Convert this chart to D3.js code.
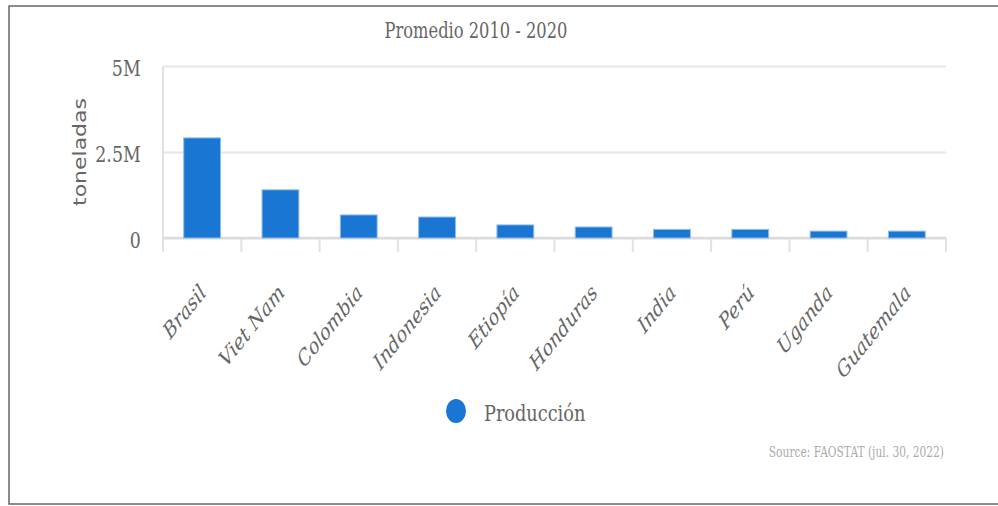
<!DOCTYPE html>
<html>
<head>
<meta charset="utf-8">
<script src="https://cdn.jsdelivr.net/npm/d3@7"></script>
<style>
  body { margin: 0; background: #fff; }
  svg text { font-family: "DejaVu Serif", serif; fill: #666; }
</style>
</head>
<body>
<svg width="998" height="506"></svg>
<script>
  const countries = ['Brasil', 'Viet Nam', 'Colombia', 'Indonesia', 'Etiopía', 'Honduras', 'India', 'Perú', 'Uganda', 'Guatemala'];
  const produccion = [2910000, 1400000, 670000, 610000, 380000, 320000, 250000, 250000, 200000, 200000];
  const yTicks = [0, 2500000, 5000000];
  const yTickLabels = ['0', '2.5M', '5M'];

  const svg = d3.select('svg');
  const width = +svg.attr('width');
  const height = +svg.attr('height');

  // the original looks squashed sideways, so texts get a scaleX
  const squash = 0.8;

  // chart frame
  svg.append('rect')
    .attr('x', 9).attr('y', 6)
    .attr('width', 1000).attr('height', 498)
    .attr('fill', 'none')
    .attr('stroke', '#666')
    .attr('stroke-width', 1.5);

  const margin = {top: 66, right: 52, bottom: 268, left: 163};
  const innerWidth = width - margin.left - margin.right;
  const innerHeight = height - margin.top - margin.bottom;

  const data = countries.map((c, i) => ({country: c, value: produccion[i]}));

  const xScale = d3.scaleBand()
    .domain(countries)
    .range([0, innerWidth])
    .paddingInner(0.53)
    .paddingOuter(0.265);

  const xBand = d3.scaleBand()
    .domain(countries)
    .range([0, innerWidth]);

  const yScale = d3.scaleLinear()
    .domain([0, 5000000])
    .range([innerHeight, 0]);

  const g = svg.append('g')
    .attr('transform', `translate(${margin.left},${margin.top})`);

  // gridlines + y tick labels
  const yAxisG = g.append('g')
    .call(d3.axisLeft(yScale)
      .tickValues(yTicks)
      .tickSize(-innerWidth)
      .tickFormat((d, i) => yTickLabels[i]));
  yAxisG.select('.domain').remove();
  yAxisG.selectAll('.tick line').attr('stroke', '#e6e6e6').attr('stroke-width', 2);
  yAxisG.selectAll('.tick text')
    .attr('font-size', 22)
    .attr('x', -22.3 / 0.79)
    .attr('dy', '0.45em')
    .attr('transform', 'scale(0.79,1)');

  // left axis line
  g.append('line')
    .attr('x1', 0).attr('x2', 0)
    .attr('y1', 0).attr('y2', innerHeight + 14)
    .attr('stroke', '#e2e2e2').attr('stroke-width', 2);

  // category boundary ticks
  const bounds = countries.map(c => xBand(c) + xBand.bandwidth());
  g.selectAll('.sep').data(bounds).enter().append('line')
    .attr('class', 'sep')
    .attr('x1', d => d).attr('x2', d => d)
    .attr('y1', innerHeight).attr('y2', innerHeight + 14)
    .attr('stroke', '#e2e2e2').attr('stroke-width', 2);

  // baseline
  g.append('line')
    .attr('x1', 0).attr('x2', innerWidth)
    .attr('y1', innerHeight).attr('y2', innerHeight)
    .attr('stroke', '#dcdcdc').attr('stroke-width', 2.5);

  // bars
  g.selectAll('.bar').data(data).enter().append('rect')
    .attr('class', 'bar')
    .attr('x', d => xScale(d.country))
    .attr('y', d => yScale(d.value))
    .attr('width', xScale.bandwidth())
    .attr('height', d => innerHeight - yScale(d.value))
    .attr('fill', '#1976d2')
    .attr('stroke', '#8cbbe9')
    .attr('stroke-width', 1);

  // x labels
  g.selectAll('.xlabel').data(countries).enter().append('text')
    .attr('class', 'xlabel')
    .attr('transform', d => `translate(${xBand(d) + xBand.bandwidth() / 2 + 5},${innerHeight + 56}) scale(${squash},1) rotate(-45)`)
    .attr('text-anchor', 'end')
    .attr('font-style', 'italic')
    .attr('font-size', 22)
    .text(d => d);

  // y axis label
  svg.append('text')
    .attr('transform', `translate(86,152) scale(${squash},1) rotate(-90)`)
    .attr('text-anchor', 'middle')
    .style('font-family', '"DejaVu Sans", sans-serif')
    .attr('font-size', 22)
    .text('toneladas');

  // title
  svg.append('text')
    .attr('transform', 'translate(476,38) scale(0.74,1)')
    .attr('text-anchor', 'middle')
    .attr('font-size', 22)
    .text('Promedio 2010 - 2020');

  // legend
  svg.append('ellipse')
    .attr('cx', 456).attr('cy', 411)
    .attr('rx', 10).attr('ry', 12)
    .attr('fill', '#1976d2');
  svg.append('text')
    .attr('transform', 'translate(484,421) scale(0.77,1)')
    .attr('font-size', 23)
    .text('Producción');

  // source
  svg.append('text')
    .attr('transform', 'translate(944,457) scale(0.71,1)')
    .attr('text-anchor', 'end')
    .attr('font-size', 15)
    .style('fill', '#aaa')
    .text('Source: FAOSTAT (jul. 30, 2022)');
</script>
</body>
</html>
